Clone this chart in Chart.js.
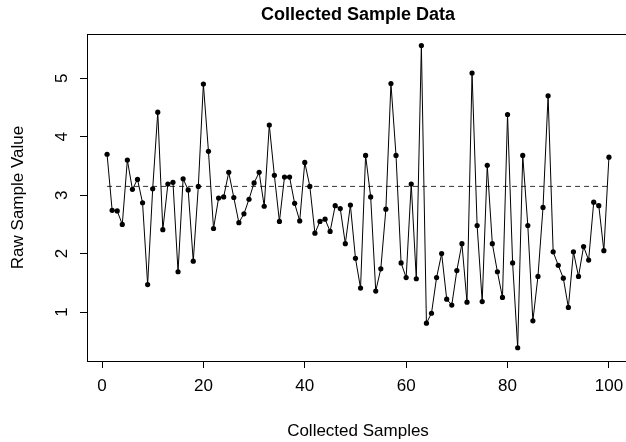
<!DOCTYPE html>
<html>
<head>
<meta charset="utf-8">
<script src="https://cdn.jsdelivr.net/npm/chart.js@4"></script>
<style>
  html, body { margin: 0; padding: 0; background: #fff; overflow: hidden; }
  canvas { display: block; }
</style>
</head>
<body>
<canvas id="c" width="640" height="442"></canvas>
<script>
const sampleValues = [
  3.70, 2.74, 2.73, 2.50, 3.60, 3.10, 3.27, 2.87, 1.47, 3.11,
  4.42, 2.41, 3.19, 3.22, 1.69, 3.28, 3.09, 1.87, 3.15, 4.90,
  3.75, 2.43, 2.95, 2.97, 3.39, 2.96, 2.53, 2.68, 2.93, 3.21,
  3.39, 2.81, 4.20, 3.34, 2.55, 3.31, 3.31, 2.86, 2.56, 3.56,
  3.15, 2.35, 2.55, 2.59, 2.38, 2.82, 2.77, 2.17, 2.83, 1.92,
  1.41, 3.68, 2.97, 1.36, 1.74, 2.76, 4.91, 3.68, 1.84, 1.59,
  3.19, 1.57, 5.56, 0.81, 0.98, 1.59, 2.00, 1.22, 1.12, 1.71,
  2.17, 1.17, 5.09, 2.48, 1.18, 3.51, 2.17, 1.69, 1.25, 4.38,
  1.84, 0.39, 3.68, 2.48, 0.85, 1.61, 2.79, 4.70, 2.03, 1.80,
  1.58, 1.08, 2.03, 1.61, 2.12, 1.89, 2.88, 2.82, 2.05, 3.65
];
const referenceLevel = 3.15;
const xTicks = [0, 20, 40, 60, 80, 100];
const yTicks = [1, 2, 3, 4, 5];

const points = sampleValues.map((v, i) => ({ x: i + 1, y: v }));
const refLine = [{ x: 1, y: referenceLevel }, { x: sampleValues.length, y: referenceLevel }];

const FONT = '"Liberation Sans", Arial, Helvetica, sans-serif';

// R-style decorations: box, title, axis titles, rotated y tick labels
const rDecor = {
  id: 'rDecor',
  afterDraw(chart) {
    const { ctx, chartArea: a, scales } = chart;
    ctx.save();
    ctx.strokeStyle = '#000';
    ctx.lineWidth = 1;
    ctx.strokeRect(Math.round(a.left) + 0.5, Math.round(a.top) + 0.5,
      Math.round(a.right - a.left), Math.round(a.bottom - a.top));

    ctx.fillStyle = '#000';
    ctx.textAlign = 'center';
    ctx.textBaseline = 'middle';
    const cx = (a.left + a.right) / 2;
    ctx.font = 'bold 18px ' + FONT;
    ctx.fillText('Collected Sample Data', cx, 15);

    ctx.font = '17px ' + FONT;
    ctx.fillText('Collected Samples', cx, 431);

    ctx.save();
    ctx.translate(18, (a.top + a.bottom) / 2);
    ctx.rotate(-Math.PI / 2);
    ctx.fillText('Raw Sample Value', 0, 0);
    ctx.restore();

    yTicks.forEach(t => {
      const y = scales.y.getPixelForValue(t);
      ctx.save();
      ctx.translate(a.left - 25, y);
      ctx.rotate(-Math.PI / 2);
      ctx.fillText(String(t), 0, 0);
      ctx.restore();
    });
    ctx.restore();
  }
};

new Chart(document.getElementById('c').getContext('2d'), {
  type: 'line',
  data: {
    datasets: [
      {
        data: points,
        borderColor: '#000',
        borderWidth: 1,
        backgroundColor: '#000',
        pointRadius: 2.6,
        pointBorderWidth: 0,
        tension: 0
      },
      {
        data: refLine,
        borderColor: '#333',
        borderWidth: 1,
        borderDash: [5, 4],
        pointRadius: 0
      }
    ]
  },
  options: {
    responsive: false,
    animation: false,
    devicePixelRatio: 1,
    layout: { padding: { top: 34, right: 11, left: 0, bottom: 0 } },
    plugins: { legend: { display: false }, tooltip: { enabled: false } },
    scales: {
      x: {
        type: 'linear',
        min: -2.96,
        max: 103.96,
        afterBuildTicks: s => { s.ticks = xTicks.map(v => ({ value: v })); },
        afterFit: s => { s.height = 81; },
        grid: { drawOnChartArea: false, tickLength: 7, tickColor: '#000', tickWidth: 1 },
        border: { display: false },
        ticks: { color: '#000', font: { size: 17, family: FONT }, padding: 8, maxRotation: 0 }
      },
      y: {
        min: 0.163,
        max: 5.757,
        afterBuildTicks: s => { s.ticks = yTicks.map(v => ({ value: v })); },
        afterFit: s => { s.width = 87; },
        grid: { drawOnChartArea: false, tickLength: 7, tickColor: '#000', tickWidth: 1 },
        border: { display: false },
        ticks: { color: 'rgba(0,0,0,0)', font: { size: 17, family: FONT } }
      }
    }
  },
  plugins: [rDecor]
});
</script>
</body>
</html>
